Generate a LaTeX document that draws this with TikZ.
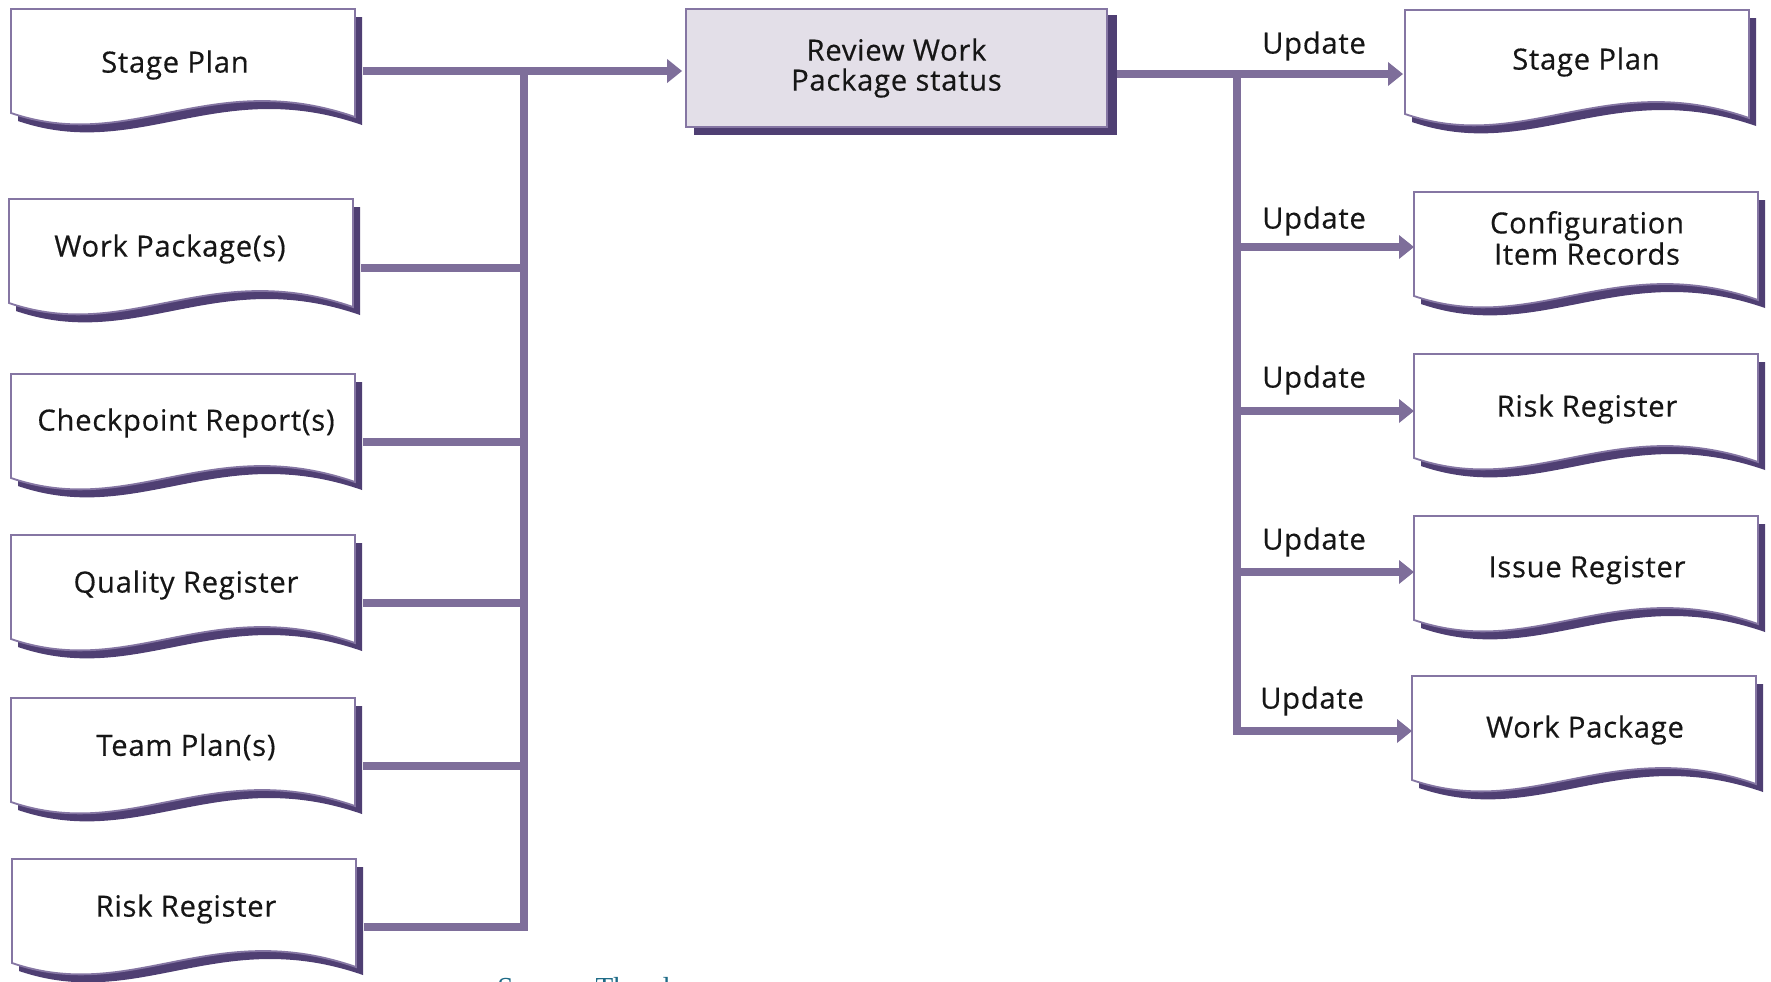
\documentclass[tikz,border=0pt]{standalone}
\usepackage{fontspec}
\setmainfont[LetterSpace=2.5,FakeBold=0.4]{Open Sans}
\newfontfamily\srcfont{Liberation Serif}
\usetikzlibrary{arrows.meta,calc,backgrounds}

\definecolor{connc}{HTML}{7E6E9A}
\definecolor{shadec}{HTML}{4F3F73}
\definecolor{bordc}{HTML}{8576A3}
\definecolor{boxfillc}{HTML}{E3DFE8}
\definecolor{inkc}{HTML}{161616}
\definecolor{tealc}{HTML}{1D6A86}

\tikzset{
  conn/.style={draw=connc, line width=4.25pt, line join=miter},
  tipped/.style={conn, -{Triangle[length=7.5pt,width=11.5pt]}},
  docshadow/.style={fill=shadec},
  docbody/.style={fill=white, draw=bordc, line width=0.9pt, line join=miter},
  docframe/.style={inner sep=0pt, minimum width=172pt, minimum height=52pt, anchor=north west},
  doctext/.style={inner sep=0pt, align=center, text=inkc, font=\fontsize{14.6}{14.5}\selectfont},
  procbox/.style={fill=boxfillc, draw=bordc, line width=0.9pt, inner sep=0pt,
    minimum width=210.5pt, minimum height=59pt, align=center, text=inkc,
    font=\fontsize{14.6}{15}\selectfont},
  updlabel/.style={inner sep=0pt, text=inkc, font=\fontsize{14.6}{15}\selectfont},
}

% document symbol: name, left x, top y, text x offset, text y offset, text
\newcommand\drawdoc[6]{%
  \begin{scope}[shift={(#2,#3)}]
    \fill[docshadow] (7,8) -- (351,8) -- (351,116)
      .. controls (207,66) and (127,153) .. (7,112) -- cycle;
    \filldraw[docbody] (0,0) -- (344,0) -- (344,108)
      .. controls (200,58) and (120,145) .. (0,104) -- cycle;
    \node[docframe] (#1) at (0,0) {};
    \node[doctext] (#1-t) at (#4,#5) {#6};
  \end{scope}}

\begin{document}
\begin{tikzpicture}[x=0.5pt,y=-0.5pt]
\useasboundingbox (0,0) rectangle (1771,981);
\clip (0,0) rectangle (1771,981);

% inputs
\drawdoc{lsp}{11}{9}{164}{56}{Stage Plan}
\drawdoc{lwp}{9}{199}{161}{50}{Work Package(s)}
\drawdoc{lcr}{11}{374}{175}{49}{Checkpoint Report(s)}
\drawdoc{lqr}{11}{535}{175}{50}{Quality Register}
\drawdoc{ltp}{11}{698}{175}{49}{Team Plan(s)}
\drawdoc{lrr}{12}{859}{174}{50}{Risk Register}

% outputs
\drawdoc{rsp}{1405}{10}{181}{52}{Stage Plan}
\drawdoc{rci}{1414}{192}{173}{46}{Configuration\\Item Records}
\drawdoc{rrr}{1414}{354}{173}{55}{Risk Register}
\drawdoc{rir}{1414}{516}{173}{54}{Issue Register}
\drawdoc{rwp}{1412}{676}{173}{54}{Work Package}

% activity
\node[procbox] (review) at (896.5,68) {Review Work\\Package status};
\begin{scope}[on background layer]
  \fill[shadec] ([shift={(9,7)}]review.north west) rectangle ([shift={(9,7)}]review.south east);
\end{scope}

% input collector
\coordinate (lj1) at (524,71);
\coordinate (lj2) at (524,268);
\coordinate (lj3) at (524,442);
\coordinate (lj4) at (524,603);
\coordinate (lj5) at (524,766);
\coordinate (lj6) at (524,927);

\draw[tipped, shorten >=1.5pt] ($(lsp.east |- lj1)+(7,0)$) -- (lj1 -| review.west);
\draw[conn] (lj1) -- (lj6) -- ($(lrr.east |- lj6)+(7,0)$);
\draw[conn] ($(lwp.east |- lj2)+(7,0)$) -- (lj2);
\draw[conn] ($(lcr.east |- lj3)+(7,0)$) -- (lj3);
\draw[conn] ($(lqr.east |- lj4)+(7,0)$) -- (lj4);
\draw[conn] ($(ltp.east |- lj5)+(7,0)$) -- (lj5);

% update distributor
\coordinate (rj1) at (1237,74);
\coordinate (rj2) at (1237,247);
\coordinate (rj3) at (1237,411);
\coordinate (rj4) at (1237,572);
\coordinate (rj5) at (1237,731);

\draw[tipped, shorten >=1pt] ($(review.east |- rj1)+(9,0)$) -- (rj1 -| rsp.west);
\draw[tipped] (rj1) -- (rj5) -- (rj5 -| rwp.west);
\draw[tipped] (rj2) -- (rj2 -| rci.west);
\draw[tipped] (rj3) -- (rj3 -| rrr.west);
\draw[tipped] (rj4) -- (rj4 -| rir.west);

\node[updlabel] (u1) at (1314,46) {Update};
\node[updlabel] (u2) at (1314,221) {Update};
\node[updlabel] (u3) at (1314,380) {Update};
\node[updlabel] (u4) at (1314,542) {Update};
\node[updlabel] (u5) at (1312,701) {Update};

% caption, cut off by the lower edge
\node[anchor=base west, inner sep=0pt, text=tealc, font=\srcfont\fontsize{14.5}{16}\selectfont] (src) at (497,997) {Source: Theod};
\end{tikzpicture}
\end{document}
